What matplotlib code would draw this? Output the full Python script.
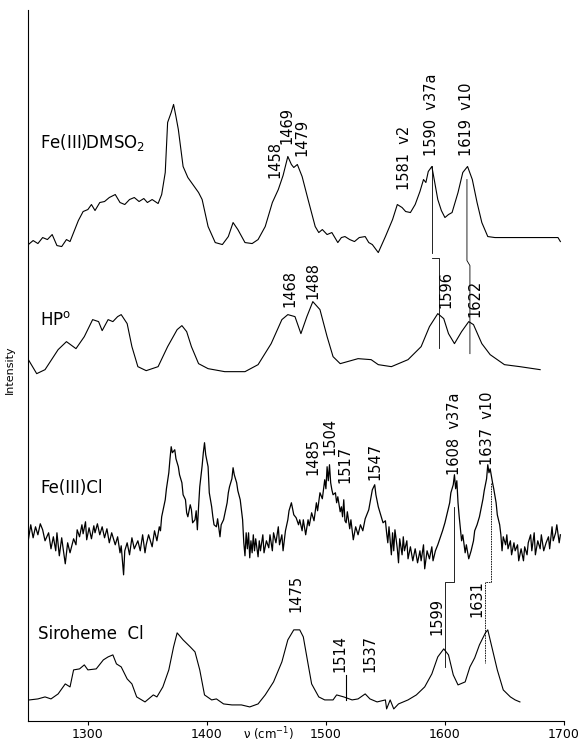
import matplotlib
matplotlib.use("Agg")
import matplotlib.pyplot as plt

# Fe(III)DMSO2 trace
dmso_x = [1250, 1254, 1258, 1262, 1266, 1270, 1274, 1278, 1282, 1285, 1289, 1292, 1296, 1300,
          1303, 1306, 1310, 1314, 1318, 1323, 1327, 1331, 1335, 1339, 1343, 1347, 1350, 1354,
          1359, 1362, 1365, 1367, 1370, 1372, 1374, 1376, 1380, 1384, 1387, 1390, 1393, 1396,
          1401, 1407, 1413, 1418, 1422, 1426, 1432, 1438, 1443, 1449, 1455, 1460, 1464, 1468,
          1471, 1473, 1476, 1480, 1485, 1491, 1494, 1497, 1501, 1505, 1510, 1513, 1516, 1520,
          1524, 1528, 1533, 1536, 1539, 1544, 1550, 1556, 1560, 1564, 1567, 1571, 1575, 1579,
          1582, 1584, 1586, 1589, 1591, 1594, 1597, 1600, 1603, 1606, 1611, 1615, 1619, 1623,
          1627, 1631, 1636, 1642, 1695, 1697]
dmso_y = [476, 480, 477, 483, 481, 486, 475, 474, 481, 479, 491, 500, 509, 511,
          516, 510, 518, 519, 523, 526, 518, 516, 521, 523, 519, 522, 518, 521,
          517, 526, 548, 598, 608, 616, 604, 591, 554, 543, 538, 533, 528, 521,
          494, 478, 476, 484, 498, 491, 478, 477, 481, 494, 518, 531, 545, 564,
          556, 553, 556, 544, 521, 494, 488, 491, 486, 488, 478, 483, 484, 481,
          479, 483, 484, 478, 476, 468, 484, 501, 516, 513, 509, 508, 516, 529,
          541, 538, 549, 554, 541, 521, 510, 503, 506, 508, 528, 548, 554, 541,
          518, 498, 484, 483, 483, 479]

# HP0 trace
hp_x = [1250, 1257, 1264, 1275, 1282, 1290, 1297, 1304, 1309, 1312, 1317, 1321, 1325, 1328,
        1333, 1337, 1342, 1349, 1359, 1367, 1375, 1379, 1383, 1387, 1393, 1401, 1415, 1432,
        1443, 1454, 1463, 1468, 1474, 1479, 1484, 1489, 1495, 1501, 1506, 1512, 1527, 1538,
        1544, 1555, 1569, 1580, 1587, 1594, 1599, 1603, 1608, 1614, 1620, 1624, 1631, 1638,
        1650, 1663, 1680]
hp_y = [361, 347, 351, 371, 379, 372, 384, 401, 399, 390, 401, 399, 404, 406,
        397, 374, 354, 350, 354, 374, 391, 395, 389, 374, 357, 352, 349, 349,
        356, 377, 401, 406, 404, 387, 404, 419, 411, 384, 364, 357, 362, 361,
        356, 354, 361, 374, 394, 407, 402, 387, 377, 389, 399, 396, 377, 366,
        356, 354, 351]

# Fe(III)Cl trace
cl_x = [1250, 1252, 1254, 1256, 1258, 1260, 1262, 1264, 1267, 1269, 1271, 1273, 1274, 1276,
        1278, 1279, 1281, 1283, 1285, 1288, 1290, 1291, 1293, 1295, 1296, 1298, 1299, 1301,
        1303, 1305, 1306, 1308, 1310, 1312, 1314, 1316, 1318, 1320, 1323, 1325, 1327, 1328,
        1330, 1331, 1333, 1335, 1337, 1339, 1342, 1344, 1346, 1348, 1349, 1351, 1354, 1356,
        1358, 1360, 1361,
        1362, 1364, 1365, 1366, 1368, 1369, 1370, 1371, 1373, 1374, 1376, 1377, 1379, 1380,
        1382, 1383, 1384, 1386, 1387, 1388, 1390, 1391, 1392, 1393, 1394, 1396, 1397, 1398,
        1399, 1401, 1402, 1404, 1405, 1406, 1408, 1409, 1411, 1412, 1414, 1416, 1417, 1418,
        1419, 1421, 1422, 1423, 1425, 1426, 1428, 1429, 1430,
        1431, 1432, 1433, 1434, 1435, 1436, 1437, 1438, 1439, 1440, 1441, 1443, 1444, 1445,
        1447, 1448, 1450, 1452, 1453, 1455, 1456, 1458, 1460, 1461, 1463, 1464, 1466, 1468,
        1469, 1471, 1473, 1475, 1477, 1478,
        1480, 1481, 1483, 1485, 1486, 1488, 1490, 1492, 1493, 1495, 1497, 1499, 1500, 1501,
        1502, 1503, 1504, 1505, 1506, 1508, 1509, 1510, 1512, 1513, 1514, 1515, 1516, 1517,
        1518, 1520, 1521, 1523, 1525, 1527, 1529, 1531, 1533, 1536, 1538, 1539, 1541, 1542,
        1544, 1546, 1548, 1550,
        1551, 1552, 1553, 1555, 1556, 1557, 1558, 1560, 1561, 1562, 1564, 1565, 1566, 1568,
        1569, 1571, 1573, 1575, 1577, 1579, 1580, 1582, 1583, 1585, 1587, 1589, 1590, 1592,
        1594, 1596, 1598, 1600,
        1602, 1604, 1605, 1607, 1608, 1609, 1610, 1611, 1612, 1614, 1615, 1617, 1618, 1620,
        1622, 1624, 1625, 1627, 1629, 1630, 1632, 1633, 1635, 1636, 1637, 1638, 1640, 1641,
        1643, 1644, 1646,
        1647, 1648, 1649, 1651, 1652, 1653, 1655, 1656, 1658, 1659, 1661, 1662, 1664, 1666,
        1667, 1669, 1670, 1672, 1673, 1675, 1676, 1678, 1680, 1681, 1683, 1685, 1687, 1688,
        1690, 1691, 1693, 1694, 1696, 1697]
cl_y = [181, 196, 183, 194, 186, 197, 191, 180, 188, 172, 184, 170, 188, 165,
        183, 174, 157, 178, 168, 182, 176, 191, 184, 196, 187, 199, 181, 193,
        182, 195, 188, 197, 186, 194, 183, 192, 178, 188, 176, 184, 168, 175,
        146, 170, 178, 166, 183, 172, 180, 170, 186, 168, 176, 186, 174, 190,
        180, 194, 190,
        204, 215, 221, 232, 248, 262, 274, 268, 271, 262, 254, 246, 238, 226,
        221, 208, 204, 216, 211, 198, 201, 210, 191, 214, 234, 255, 268, 278,
        266, 254, 228, 214, 204, 196, 194, 202, 184, 196, 201, 212, 218, 228,
        234, 242, 253, 246, 238, 230, 221, 211, 201,
        178, 165, 188, 172, 188, 163, 180, 168, 186, 170, 182, 164, 180, 170,
        186, 168, 180, 173, 186, 170, 188, 178, 194, 176, 186, 170, 190, 201,
        210, 218, 206, 203, 196, 201,
        190, 201, 186, 201, 195, 208, 200, 218, 210, 228, 222, 241, 232, 254,
        240, 256, 238, 231, 226, 228, 218, 224, 209, 214, 204, 221, 200, 198,
        209, 192, 201, 181, 194, 186, 196, 190, 202, 211, 224, 231, 236, 226,
        214, 206, 198, 200,
        188, 178, 194, 166, 188, 170, 191, 172, 158, 182, 166, 184, 170, 180,
        162, 174, 160, 172, 158, 170, 160, 176, 152, 170, 162, 174, 160, 170,
        176, 183, 190, 198,
        208, 218, 228, 236, 246, 232, 240, 218, 204, 180, 186, 168, 176, 162,
        170, 180, 190, 196, 204, 210, 222, 230, 242, 256, 248, 252, 238, 232,
        218, 206, 196,
        186, 170, 184, 176, 186, 172, 180, 166, 178, 170, 176, 160, 172, 160,
        174, 166, 178, 186, 170, 188, 166, 180, 172, 186, 170, 178, 184, 172,
        194, 180, 188, 196, 178, 186]

# Siroheme Cl trace
sh_x = [1251, 1258, 1264, 1269, 1275, 1281, 1285, 1288, 1293, 1297, 1300, 1307, 1313, 1317,
        1321, 1324, 1328, 1333, 1337, 1341, 1348, 1355, 1358, 1363, 1368, 1372, 1375, 1380,
        1386, 1390, 1394, 1398, 1404, 1408, 1414, 1421, 1429, 1436, 1443, 1449, 1456, 1463,
        1468, 1473, 1478, 1481, 1485, 1488, 1494, 1499, 1506, 1509, 1515, 1522, 1527, 1533,
        1537, 1543, 1550, 1551, 1554, 1557, 1561, 1569, 1576, 1583, 1589, 1594, 1599, 1603,
        1607, 1611, 1617, 1621, 1625, 1629, 1634, 1636, 1639, 1644, 1649, 1655, 1659, 1663]
sh_y = [21, 22, 24, 22, 27, 37, 34, 51, 52, 56, 51, 52, 61, 64,
        66, 57, 54, 42, 37, 24, 19, 26, 24, 34, 51, 74, 88, 81,
        74, 69, 51, 26, 21, 22, 17, 16, 16, 14, 17, 26, 39, 59,
        81, 91, 91, 84, 57, 37, 24, 21, 21, 26, 24, 21, 22, 27,
        22, 19, 21, 12, 21, 12, 17, 21, 26, 34, 47, 64, 72, 66,
        46, 36, 39, 54, 63, 76, 88, 91, 76, 51, 31, 24, 21, 19]

# trace names
names = ["Fe(III)DMSO$_2$", "HP$^{\\mathrm{o}}$", "Fe(III)Cl", "Siroheme  Cl"]
name_x = [1260, 1260, 1260, 1258]
name_y = [578, 401, 233, 87]

# peak labels: text, wavenumber, bottom of text
peak_text = ["1458", "1469", "1479", "1581  v2", "1590  v37a", "1619  v10",
             "1468", "1488", "1596", "1622",
             "1485", "1504", "1517", "1547", "1608  v37a", "1637  v10",
             "1475", "1514", "1537", "1599", "1631"]
peak_x = [1457, 1467, 1480, 1566, 1589, 1618,
          1470, 1489, 1601, 1625,
          1489, 1503, 1516, 1541, 1608, 1636,
          1475, 1512, 1537, 1593, 1627]
peak_y = [543, 576, 564, 531, 564, 564,
          414, 422, 413, 404,
          246, 266, 238, 241, 246, 256,
          109, 49, 49, 86, 104]

fig = plt.figure(figsize=(5.79, 7.44), dpi=100)
ax = fig.add_axes([0.049, 0.031, 0.925, 0.956])

for xs, ys in [(dmso_x, dmso_y), (hp_x, hp_y), (sh_x, sh_y)]:
    ax.plot(xs, ys, color="black", lw=0.8)
ax.plot(cl_x, cl_y, color="black", lw=0.9)

for t, x, y in zip(names, name_x, name_y):
    ax.text(x, y, t, fontsize=12, ha="left", va="center")

for t, x, y in zip(peak_text, peak_x, peak_y):
    ax.text(x, y, t, fontsize=10.5, rotation=90, ha="center", va="bottom")

# correlation lines between the spectra
ax.plot([1589, 1589], [554, 468], color="black", lw=0.6)
ax.plot([1589, 1595, 1595], [463, 463, 373], color="black", lw=0.6)
ax.plot([1618.5, 1618.5, 1621, 1621], [541, 460, 455, 367], color="black", lw=0.6)
ax.plot([1608, 1608, 1600, 1600], [214, 139, 139, 54], color="black", lw=0.6)
ax.plot([1639, 1639, 1634, 1634], [238, 139, 139, 58], color="black", lw=0.6,
        linestyle=(0, (2, 1)))
ax.plot([1517, 1517], [46, 21], color="black", lw=0.8)

ax.set_xlim(1250, 1700)
ax.set_ylim(0, 710.7)
ax.set_xticks([1300, 1400, 1500, 1600, 1700])
ax.set_xticklabels(["1300", "1400", "1500", "1600", "1700"], fontsize=9)
ax.set_yticks([])
ax.tick_params(axis="x", direction="out", length=3, pad=2)
ax.spines["top"].set_visible(False)
ax.spines["right"].set_visible(False)

fig.text(0.463, 0.001, "\u03bd (cm$^{-1}$)", fontsize=8.5, ha="center", va="bottom")
fig.text(0.017, 0.503, "Intensity", fontsize=8, rotation=90, ha="center", va="center")

fig.savefig("out.png", dpi=100)
